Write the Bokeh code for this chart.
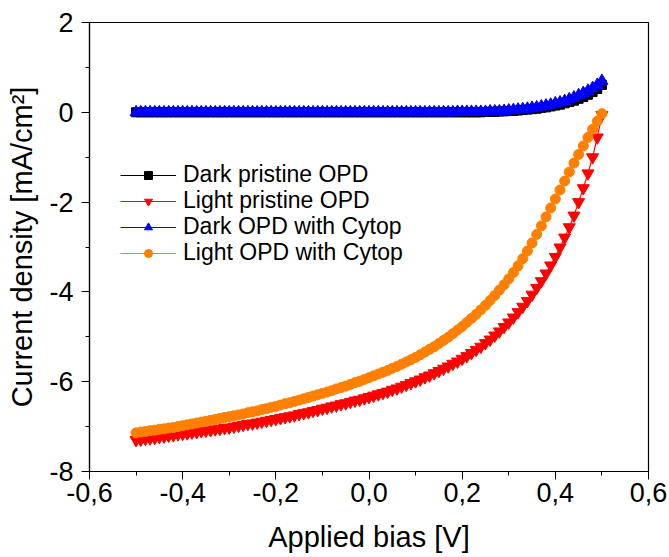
from bokeh.plotting import figure
from bokeh.models import FixedTicker, Range1d, Legend, LegendItem
from bokeh.embed import file_html
from bokeh.resources import INLINE

bias = [-0.50, -0.49, -0.48, -0.47, -0.46, -0.45, -0.44, -0.43, -0.42, -0.41,
        -0.40, -0.39, -0.38, -0.37, -0.36, -0.35, -0.34, -0.33, -0.32, -0.31,
        -0.30, -0.29, -0.28, -0.27, -0.26, -0.25, -0.24, -0.23, -0.22, -0.21,
        -0.20, -0.19, -0.18, -0.17, -0.16, -0.15, -0.14, -0.13, -0.12, -0.11,
        -0.10, -0.09, -0.08, -0.07, -0.06, -0.05, -0.04, -0.03, -0.02, -0.01,
        0.00, 0.01, 0.02, 0.03, 0.04, 0.05, 0.06, 0.07, 0.08, 0.09,
        0.10, 0.11, 0.12, 0.13, 0.14, 0.15, 0.16, 0.17, 0.18, 0.19,
        0.20, 0.21, 0.22, 0.23, 0.24, 0.25, 0.26, 0.27, 0.28, 0.29,
        0.30, 0.31, 0.32, 0.33, 0.34, 0.35, 0.36, 0.37, 0.38, 0.39,
        0.40, 0.41, 0.42, 0.43, 0.44, 0.45, 0.46, 0.47, 0.48, 0.49, 0.50]

dark_pristine = [0.00, 0.00, 0.00, 0.00, 0.00, 0.00, 0.00, 0.00, 0.00, 0.00,
                 0.00, 0.00, 0.00, 0.00, 0.00, 0.00, 0.00, 0.00, 0.00, 0.00,
                 0.00, 0.00, 0.00, 0.00, 0.00, 0.00, 0.00, 0.00, 0.00, 0.00,
                 0.00, 0.00, 0.00, 0.00, 0.00, 0.00, 0.00, 0.00, 0.00, 0.00,
                 0.00, 0.00, 0.00, 0.00, 0.00, 0.00, 0.00, 0.00, 0.00, 0.00,
                 0.00, 0.00, 0.00, 0.00, 0.00, 0.00, 0.00, 0.00, 0.00, 0.00,
                 0.00, 0.00, 0.00, 0.00, 0.00, 0.00, 0.00, 0.00, 0.00, 0.00,
                 0.00, 0.00, 0.00, 0.00, 0.00, 0.01, 0.01, 0.01, 0.02, 0.02,
                 0.03, 0.03, 0.04, 0.05, 0.06, 0.07, 0.08, 0.10, 0.11, 0.13,
                 0.15, 0.17, 0.20, 0.23, 0.26, 0.30, 0.34, 0.39, 0.45, 0.52, 0.61]

light_pristine = [-7.30, -7.29, -7.27, -7.26, -7.25, -7.23, -7.22, -7.20, -7.19, -7.17,
                  -7.16, -7.15, -7.13, -7.12, -7.10, -7.09, -7.08, -7.06, -7.05, -7.03,
                  -7.02, -7.00, -6.98, -6.96, -6.94, -6.93, -6.91, -6.89, -6.87, -6.85,
                  -6.83, -6.81, -6.79, -6.77, -6.75, -6.72, -6.70, -6.68, -6.65, -6.63,
                  -6.60, -6.58, -6.55, -6.53, -6.50, -6.48, -6.45, -6.42, -6.40, -6.37,
                  -6.34, -6.31, -6.28, -6.25, -6.22, -6.18, -6.15, -6.11, -6.07, -6.03,
                  -5.99, -5.95, -5.90, -5.86, -5.81, -5.76, -5.71, -5.66, -5.60, -5.55,
                  -5.49, -5.43, -5.36, -5.29, -5.22, -5.14, -5.06, -4.97, -4.88, -4.78,
                  -4.68, -4.57, -4.45, -4.33, -4.20, -4.06, -3.91, -3.76, -3.59, -3.41,
                  -3.22, -3.01, -2.79, -2.56, -2.30, -2.00, -1.69, -1.36, -1.00, -0.56, -0.06]

dark_cytop = [0.00, 0.00, 0.00, 0.00, 0.00, 0.00, 0.00, 0.00, 0.00, 0.00,
              0.00, 0.00, 0.00, 0.00, 0.00, 0.00, 0.00, 0.00, 0.00, 0.00,
              0.00, 0.00, 0.00, 0.00, 0.00, 0.00, 0.00, 0.00, 0.00, 0.00,
              0.00, 0.00, 0.00, 0.00, 0.00, 0.00, 0.00, 0.00, 0.00, 0.00,
              0.00, 0.00, 0.00, 0.00, 0.00, 0.00, 0.00, 0.00, 0.00, 0.00,
              0.00, 0.00, 0.00, 0.00, 0.00, 0.00, 0.00, 0.00, 0.00, 0.00,
              0.00, 0.00, 0.00, 0.00, 0.00, 0.00, 0.00, 0.00, 0.00, 0.01,
              0.01, 0.01, 0.01, 0.01, 0.01, 0.01, 0.02, 0.02, 0.02, 0.03,
              0.04, 0.05, 0.06, 0.07, 0.08, 0.10, 0.11, 0.13, 0.15, 0.17,
              0.20, 0.22, 0.25, 0.29, 0.33, 0.38, 0.43, 0.48, 0.54, 0.61, 0.70]

light_cytop = [-7.14, -7.12, -7.11, -7.09, -7.08, -7.06, -7.05, -7.03, -7.02, -7.00,
               -6.98, -6.96, -6.94, -6.92, -6.90, -6.88, -6.86, -6.84, -6.82, -6.80,
               -6.78, -6.76, -6.74, -6.72, -6.69, -6.67, -6.65, -6.62, -6.60, -6.57,
               -6.55, -6.52, -6.49, -6.47, -6.44, -6.41, -6.38, -6.35, -6.32, -6.29,
               -6.26, -6.23, -6.20, -6.16, -6.13, -6.10, -6.06, -6.02, -5.99, -5.95,
               -5.91, -5.87, -5.83, -5.79, -5.75, -5.70, -5.66, -5.61, -5.56, -5.51,
               -5.46, -5.40, -5.34, -5.28, -5.22, -5.15, -5.08, -5.01, -4.93, -4.85,
               -4.77, -4.68, -4.59, -4.50, -4.40, -4.30, -4.19, -4.08, -3.96, -3.84,
               -3.71, -3.57, -3.42, -3.26, -3.09, -2.91, -2.72, -2.53, -2.33, -2.13,
               -1.93, -1.73, -1.53, -1.33, -1.13, -0.94, -0.75, -0.56, -0.38, -0.20, -0.03]

series_names = ["Dark pristine OPD", "Light pristine OPD", "Dark OPD with Cytop", "Light OPD with Cytop"]
series_values = [dark_pristine, light_pristine, dark_cytop, light_cytop]
series_colors = ["#000000", "#ff0000", "#0000ff", "#ff8000"]
series_markers = ["square", "inverted_triangle", "triangle", "circle"]
series_sizes = [9, 12, 12, 10]

x_ticks = [-0.6, -0.4, -0.2, 0.0, 0.2, 0.4, 0.6]
x_tick_labels = ["-0,6", "-0,4", "-0,2", "0,0", "0,2", "0,4", "0,6"]
x_minor = [-0.5, -0.3, -0.1, 0.1, 0.3, 0.5]
y_ticks = [-8, -6, -4, -2, 0, 2]
y_tick_labels = ["-8", "-6", "-4", "-2", "0", "2"]
y_minor = [-7, -5, -3, -1, 1]

FONT = "Liberation Sans"

p = figure(width=669, height=557, output_backend="svg", toolbar_location=None,
           x_range=Range1d(-0.6, 0.6), y_range=Range1d(-8, 2),
           min_border_left=89, min_border_right=21, min_border_top=22, min_border_bottom=86)
p.xgrid.visible = False
p.ygrid.visible = False
p.outline_line_color = "black"
p.outline_line_width = 1.2
p.background_fill_color = "white"
p.border_fill_color = "white"

p.xaxis.ticker = FixedTicker(ticks=x_ticks, minor_ticks=x_minor)
p.xaxis.major_label_overrides = {t: l for t, l in zip(x_ticks, x_tick_labels)}
p.yaxis.ticker = FixedTicker(ticks=y_ticks, minor_ticks=y_minor)
p.yaxis.major_label_overrides = {t: l for t, l in zip(y_ticks, y_tick_labels)}

p.xaxis.axis_label = "Applied bias [V]"
p.yaxis.axis_label = "Current density [mA/cm²]"
for ax in (p.xaxis, p.yaxis):
    ax.axis_line_color = "black"
    ax.axis_line_width = 1.2
    ax.major_tick_line_color = "black"
    ax.minor_tick_line_color = "black"
    ax.major_tick_out = 8
    ax.major_tick_in = 0
    ax.minor_tick_out = 4
    ax.minor_tick_in = 0
    ax.major_label_text_font = FONT
    ax.major_label_text_font_size = "27px"
    ax.major_label_text_color = "black"
    ax.axis_label_text_font = FONT
    ax.axis_label_text_font_size = "29px"
    ax.axis_label_text_font_style = "normal"
    ax.axis_label_text_color = "black"
p.xaxis.major_label_standoff = 3
p.yaxis.major_label_standoff = 8
p.xaxis.axis_label_standoff = 16
p.yaxis.axis_label_standoff = 8

# one single-entry legend per row so the row pitch can match the reference
legend_bottoms = [283, 257, 231, 205]
for name, vals, col, mk, sz, lb in zip(series_names, series_values, series_colors,
                                       series_markers, series_sizes, legend_bottoms):
    ln = p.line(bias, vals, line_color=col, line_width=1.2)
    sc = p.scatter(bias, vals, marker=mk, size=sz, fill_color=col, line_color=col)
    lg = Legend(items=[LegendItem(label=name, renderers=[ln, sc])], location=(31, lb),
                border_line_color=None, background_fill_alpha=0, label_text_font=FONT,
                label_text_font_size="23px", label_text_color="black", glyph_width=56,
                glyph_height=20, spacing=0, padding=0, margin=0, label_standoff=7,
                label_height=20)
    p.add_layout(lg, "center")

open("out.html", "w").write(file_html(p, INLINE))
